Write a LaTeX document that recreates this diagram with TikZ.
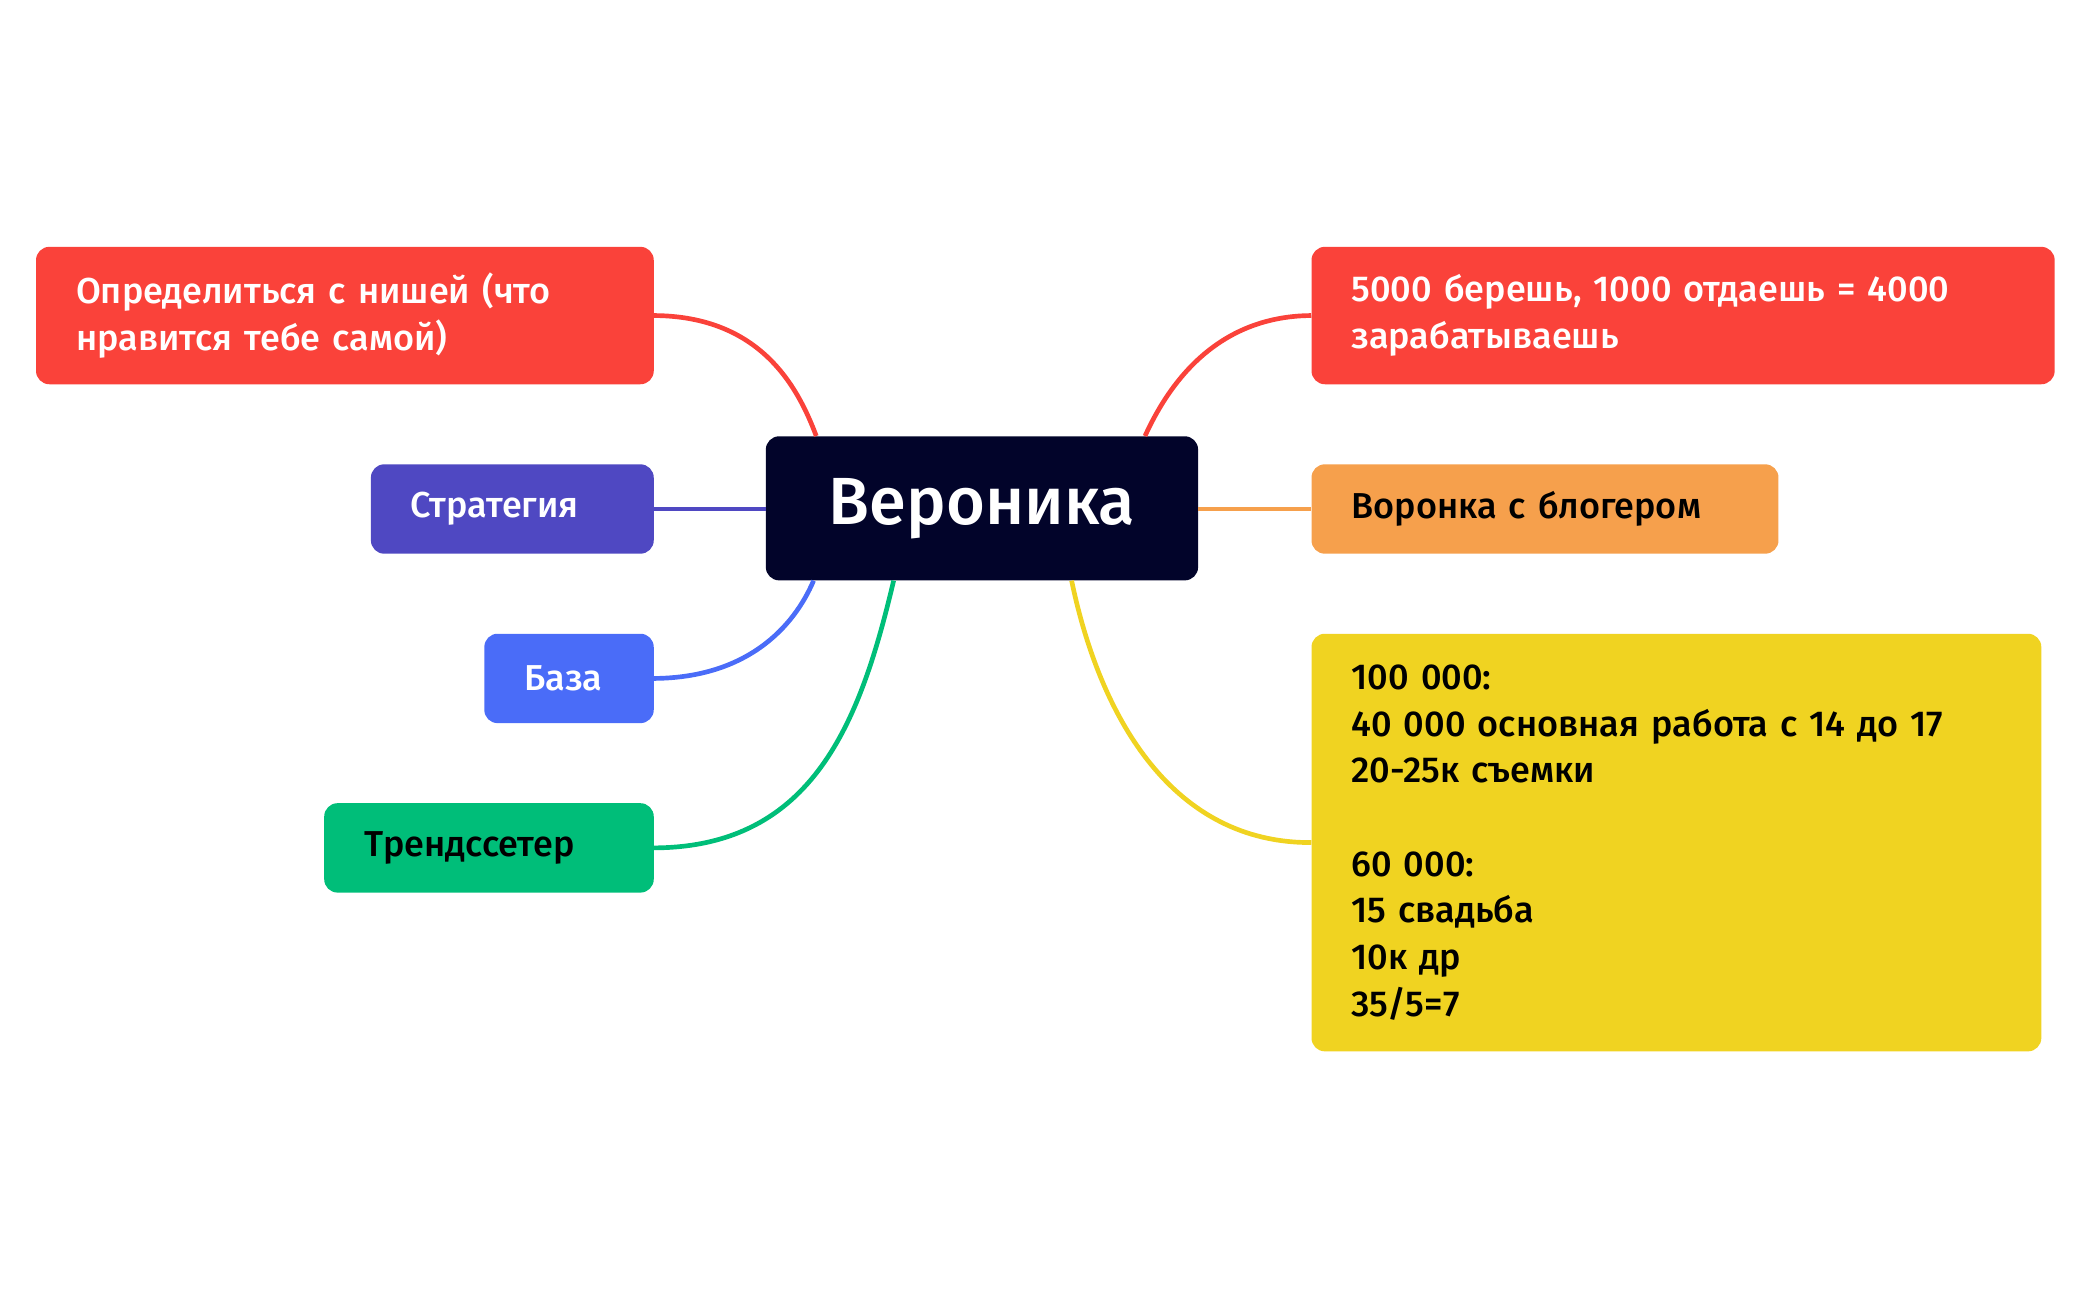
\documentclass[tikz,border=0pt]{standalone}
\usepackage{fontspec}
\setmainfont{Fira Sans}[UprightFont=* Medium]
\usetikzlibrary{calc}
\definecolor{cred}{HTML}{FA423A}
\definecolor{cpur}{HTML}{4F48C2}
\definecolor{cblue}{HTML}{4A6CF8}
\definecolor{cgreen}{HTML}{00BE79}
\definecolor{corange}{HTML}{F6A04C}
\definecolor{cyel}{HTML}{F0D321}
\definecolor{cnavy}{HTML}{02042A}
\begin{document}
\begin{tikzpicture}[x=1pt,y=-1pt,
 box/.style={rounded corners=10pt,inner xsep=30pt,inner ysep=0pt,align=left,
   font=\fontsize{27}{35}\selectfont},
 link/.style={line width=3.5pt}]
\useasboundingbox (0,0) rectangle (1568,975);
\node[fill=cnavy,rounded corners=10pt,minimum width=324,minimum height=108,text=white,font=\fontsize{50}{60}\selectfont] (c) at (736,381) {Вероника};
\node[box,fill=cred,text=white,minimum height=103,text width=403] (a) at (258.5,236.5) {Определиться с нишей (что\\нравится тебе самой)};
\node[box,fill=cpur,text=white,minimum height=67,text width=152] (s) at (384,381.5) {Стратегия};
\node[box,fill=cblue,text=white,minimum height=67,text width=67] (b) at (426.5,508.5) {База};
\node[box,fill=cgreen,text=black,minimum height=67,text width=187] (t) at (366.5,635.5) {Трендссетер};
\node[box,fill=cred,text=white,minimum height=103,text width=497] (r) at (1261.5,236.5) {5000 берешь, 1000 отдаешь = 4000\\зарабатываешь};
\node[box,fill=corange,text=black,minimum height=67,text width=290] (o) at (1158,381.5) {Воронка с блогером};
\node[box,fill=cyel,text=black,minimum height=313,text width=487] (y) at (1256.5,631.5) {100 000:\\40 000 основная работа с 14 до 17\\20-25к съемки\\[35pt]60 000:\\15 свадьба\\10к др\\35/5=7};
\draw[link,cred] (a.east) .. controls (570,237) and (598,290) .. ($(c.north west)+(38,0)$);
\draw[link,cpur] (s.east) -- (c.west |- s.east);
\draw[link,cblue] (b.east) .. controls (560,508) and (595,470) .. ($(c.south west)+(36,0)$);
\draw[link,cgreen] (t.east) .. controls (610,635) and (645,540) .. ($(c.south west)+(96,0)$);
\draw[link,cred] (r.west) .. controls (910,237) and (875,290) .. ($(c.north east)+(-40,0)$);
\draw[link,corange] (c.east |- o.west) -- (o.west);
\draw[link,cyel] (y.west) .. controls (880,632) and (825,540) .. ($(c.south east)+(-95,0)$);
\end{tikzpicture}
\end{document}
